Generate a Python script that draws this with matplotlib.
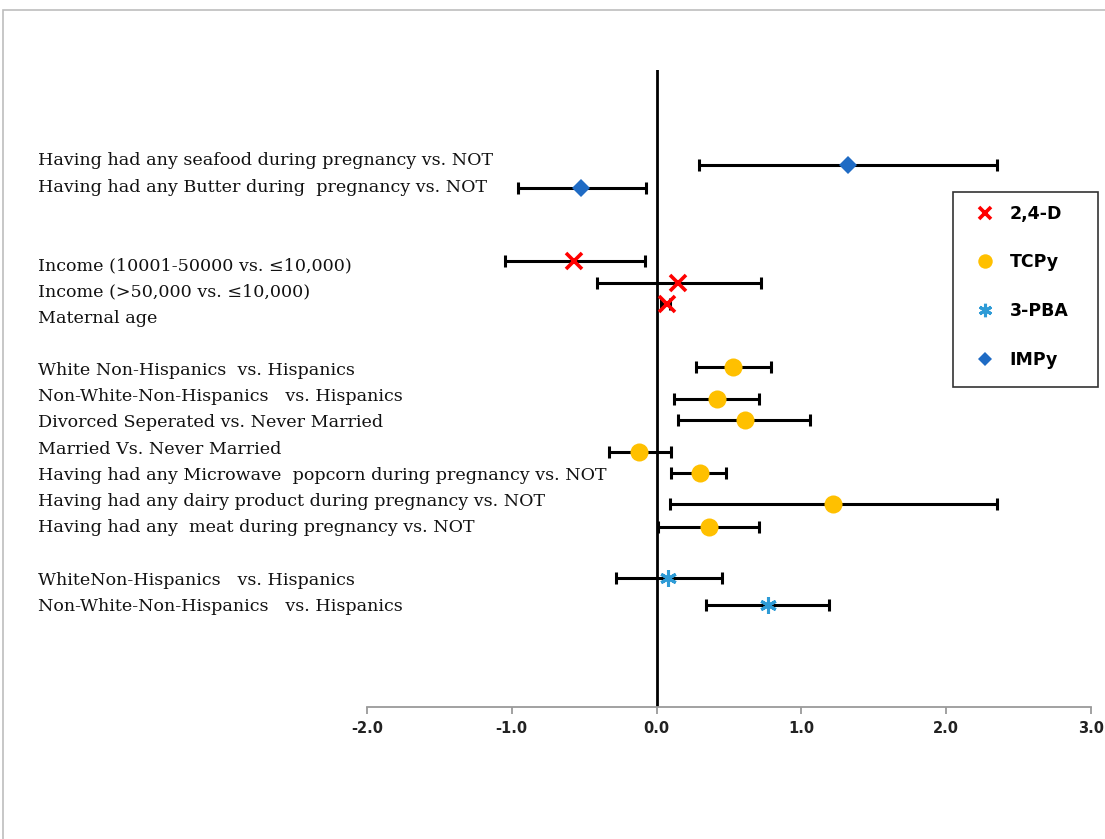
import matplotlib
matplotlib.use("Agg")
import matplotlib.pyplot as plt
import matplotlib.patches as mpatches
from matplotlib.lines import Line2D

# ---------------------------------------------------------------------------
# Data
# ---------------------------------------------------------------------------
labels = [
    "Having had any seafood during pregnancy vs. NOT",
    "Having had any Butter during  pregnancy vs. NOT",
    "Income (10001-50000 vs. \u226410,000)",
    "Income (>50,000 vs. \u226410,000)",
    "Maternal age",
    "White Non-Hispanics  vs. Hispanics",
    "Non-White-Non-Hispanics   vs. Hispanics",
    "Divorced Seperated vs. Never Married",
    "Married Vs. Never Married",
    "Having had any Microwave  popcorn during pregnancy vs. NOT",
    "Having had any dairy product during pregnancy vs. NOT",
    "Having had any  meat during pregnancy vs. NOT",
    "WhiteNon-Hispanics   vs. Hispanics",
    "Non-White-Non-Hispanics   vs. Hispanics",
]
label_slot = [0, 1, 4, 5, 6, 8, 9, 10, 11, 12, 13, 14, 16, 17]
point_y = [0.15, 1.03, 3.82, 4.66, 5.46, 7.86, 9.08, 9.89, 11.1, 11.9,
           13.1, 13.97, 15.92, 16.95]

estimate = [1.32, -0.52, -0.57, 0.15, 0.07, 0.53, 0.42, 0.61, -0.12, 0.30,
            1.22, 0.36, 0.08, 0.77]
ci_low = [0.29, -0.96, -1.05, -0.41, 0.03, 0.27, 0.12, 0.15, -0.33, 0.10,
          0.09, 0.01, -0.28, 0.34]
ci_high = [2.35, -0.07, -0.08, 0.72, 0.09, 0.79, 0.71, 1.06, 0.10, 0.48,
           2.35, 0.71, 0.45, 1.19]
metabolite = ["IMPy", "IMPy", "2,4-D", "2,4-D", "2,4-D",
              "TCPy", "TCPy", "TCPy", "TCPy", "TCPy", "TCPy", "TCPy",
              "3-PBA", "3-PBA"]

legend_order = ["2,4-D", "TCPy", "3-PBA", "IMPy"]
xticks = [-2.0, -1.0, 0.0, 1.0, 2.0, 3.0]

# marker styles per metabolite
styles = {
    "2,4-D": dict(marker="x", color="#FF0000", ms=11, mew=2.6),
    "TCPy":  dict(marker="o", color="#FFC000", ms=13, mew=0),
    "3-PBA": dict(marker=(6, 2, 0), color="#2E9BD6", ms=12, mew=2.2),
    "IMPy":  dict(marker="D", color="#1F6BC4", ms=9, mew=0),
}

# ---------------------------------------------------------------------------
# Figure
# ---------------------------------------------------------------------------
W, H = 1105, 839
fig = plt.figure(figsize=(W / 100, H / 100), dpi=100)
fig.patch.set_facecolor("white")

# outer grey frame (only top & left visible in the reference)
fig.add_artist(mpatches.Rectangle((3 / W, -0.2), 1.2, 1.2 - 10 / H,
                                  transform=fig.transFigure, fill=False,
                                  edgecolor="#bdbdbd", lw=1.2))

ax = fig.add_axes([367 / W, 1 - 707 / H, (1091 - 367) / W, (707 - 70) / H])
ax.set_xlim(-2.0, 3.0)
ax.set_ylim(20.84, -3.47)

# error bars
xerr = [[e - lo for e, lo in zip(estimate, ci_low)],
        [hi - e for e, hi in zip(estimate, ci_high)]]
ax.errorbar(estimate, point_y, xerr=xerr, fmt="none", ecolor="black",
            elinewidth=2.2, capsize=4, capthick=2.2, zorder=3)

# point estimates
for name in legend_order:
    xs = [e for e, m in zip(estimate, metabolite) if m == name]
    ys = [y for y, m in zip(point_y, metabolite) if m == name]
    st = styles[name]
    ax.plot(xs, ys, ls="none", marker=st["marker"], color=st["color"],
            ms=st["ms"], mew=st["mew"], zorder=5)

# vertical reference line at 0
ax.axvline(0, color="black", lw=2, zorder=2)

# category labels on the left
for lab, k in zip(labels, label_slot):
    ax.text((38 - 367) / (1091 - 367), k, lab, transform=ax.get_yaxis_transform(),
            ha="left", va="center", fontsize=12.6, family="DejaVu Serif",
            color="#111111")

# axes styling
for s in ["top", "right", "left"]:
    ax.spines[s].set_visible(False)
ax.spines["bottom"].set_color("#9a9a9a")
ax.spines["bottom"].set_linewidth(1.3)
ax.set_yticks([])
ax.set_xticks(xticks)
ax.set_xticklabels([f"{t:.1f}" for t in xticks])
ax.tick_params(axis="x", direction="out", length=5, width=1.3,
               color="#9a9a9a", pad=5, labelsize=10.5)
for t in ax.get_xticklabels():
    t.set_fontweight("bold")
    t.set_color("#222222")

# legend box drawn separately so its size matches the reference
fig.add_artist(mpatches.Rectangle((953 / W, 1 - 387 / H), (1098 - 953) / W,
                                  (387 - 192) / H, transform=fig.transFigure,
                                  fill=False, edgecolor="#333333", lw=1.2))
handles = []
for name in legend_order:
    st = styles[name]
    handles.append(Line2D([], [], ls="none", marker=st["marker"],
                          color=st["color"], ms=st["ms"], mew=st["mew"]))
fig.legend(handles, legend_order, loc="upper left",
           bbox_to_anchor=(953 / W, 1 - 190 / H),
           bbox_transform=fig.transFigure, borderaxespad=0,
           frameon=False, markerscale=0.8, handlelength=2.0,
           handletextpad=0.4, labelspacing=1.77, borderpad=0.85,
           prop=dict(weight="bold", size=12.5))

fig.savefig("out.png", dpi=100)
